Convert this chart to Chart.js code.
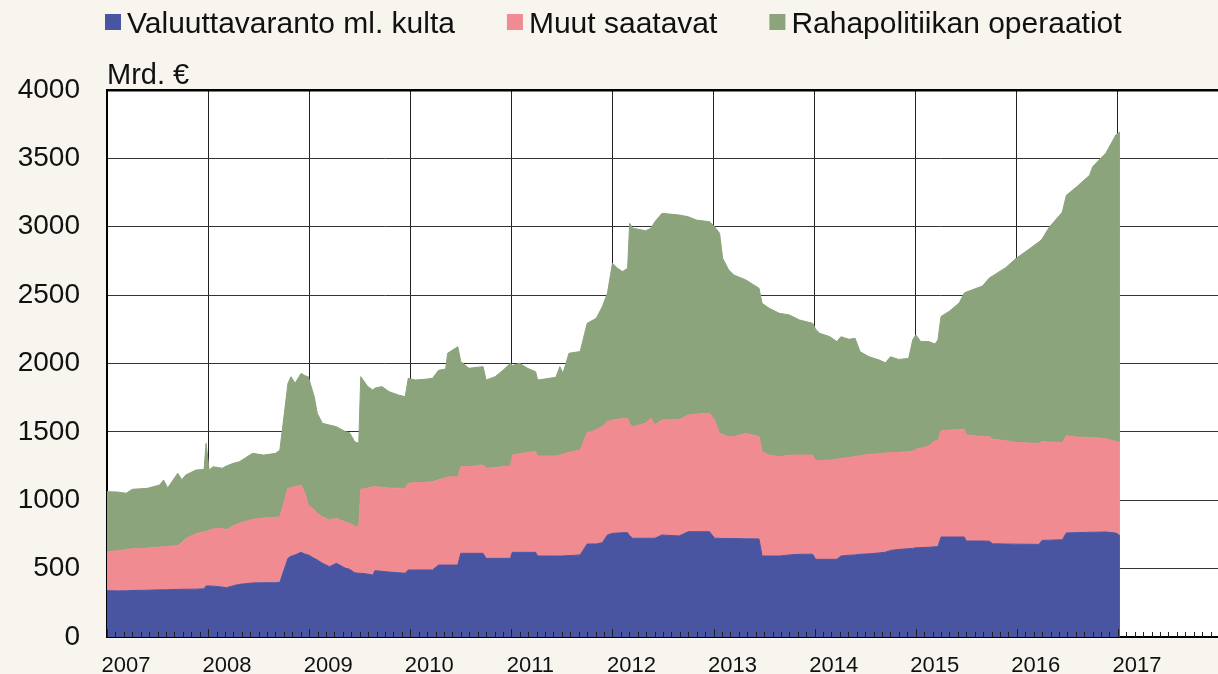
<!DOCTYPE html>
<html lang="fi">
<head>
<meta charset="utf-8">
<title>Eurojärjestelmän saatavat</title>
<script src="https://cdn.jsdelivr.net/npm/chart.js@4.4.1/dist/chart.umd.min.js"></script>
<style>
  html, body { margin: 0; padding: 0; background: #f8f4ee; }
  #wrap { position: relative; width: 1218px; height: 674px; }
</style>
</head>
<body>
<div id="wrap"><canvas id="chart"></canvas></div>
<script>
// ======================
// Data (vuosi desimaalina, mrd. euroa)
// ======================
const dates = [
  2007.00, 2007.10, 2007.19, 2007.25, 2007.40, 2007.52, 2007.56, 2007.60, 2007.70, 2007.74,
  2007.78, 2007.88, 2007.96, 2007.98, 2008.01, 2008.05, 2008.14, 2008.18, 2008.25, 2008.31,
  2008.44, 2008.55, 2008.67, 2008.71, 2008.79, 2008.82, 2008.86, 2008.92, 2008.96, 2008.99,
  2009.05, 2009.08, 2009.13, 2009.20, 2009.27, 2009.36, 2009.40, 2009.45, 2009.49, 2009.51,
  2009.58, 2009.63, 2009.65, 2009.72, 2009.79, 2009.88, 2009.95, 2009.98, 2010.05, 2010.15,
  2010.22, 2010.28, 2010.35, 2010.37, 2010.47, 2010.50, 2010.58, 2010.72, 2010.75, 2010.84,
  2010.92, 2010.99, 2011.01, 2011.08, 2011.16, 2011.24, 2011.26, 2011.44, 2011.48, 2011.51,
  2011.54, 2011.57, 2011.68, 2011.75, 2011.84, 2011.90, 2011.95, 2012.00, 2012.05, 2012.10,
  2012.15, 2012.17, 2012.20, 2012.33, 2012.38, 2012.42, 2012.49, 2012.66, 2012.75, 2012.83,
  2012.96, 2013.01, 2013.06, 2013.09, 2013.15, 2013.20, 2013.32, 2013.45, 2013.48, 2013.55,
  2013.65, 2013.75, 2013.85, 2013.98, 2014.01, 2014.05, 2014.15, 2014.22, 2014.26, 2014.34,
  2014.40, 2014.45, 2014.54, 2014.64, 2014.70, 2014.75, 2014.83, 2014.93, 2014.97, 2015.00,
  2015.05, 2015.13, 2015.19, 2015.22, 2015.25, 2015.33, 2015.43, 2015.48, 2015.50, 2015.60,
  2015.66, 2015.73, 2015.76, 2015.89, 2015.99, 2016.12, 2016.22, 2016.25, 2016.32, 2016.45,
  2016.49, 2016.59, 2016.72, 2016.75, 2016.88, 2016.98, 2017.02
];
const valuuttavaranto = [
  339, 337, 338, 340, 342, 345, 345, 346, 348, 349,
  349, 350, 352, 373, 373, 372, 365, 360, 375, 385,
  395, 397, 397, 400, 575, 590, 600, 619, 605, 600,
  575, 563, 540, 514, 539, 502, 495, 470, 466, 466,
  460, 453, 485, 480, 475, 470, 466, 490, 490, 490,
  490, 526, 526, 526, 526, 612, 612, 612, 575, 575,
  575, 575, 619, 619, 619, 619, 592, 592, 592, 592,
  595, 595, 600, 680, 680, 690, 746, 758, 760, 763,
  763, 740, 722, 722, 722, 722, 746, 739, 770, 770,
  770, 722, 722, 720, 720, 720, 718, 717, 592, 592,
  592, 600, 605, 605, 568, 568, 568, 568, 592, 598,
  600, 605, 608, 615, 620, 633, 640, 646, 648, 652,
  654, 656, 660, 660, 731, 731, 731, 731, 702, 702,
  702, 700, 682, 680, 679, 678, 677, 707, 708, 711,
  761, 763, 766, 766, 768, 760, 741
];
const muutSaatavat = [
  285, 293, 302, 305, 308, 313, 315, 316, 322, 341,
  371, 405, 418, 397, 407, 418, 430, 422, 440, 446,
  465, 473, 478, 480, 512, 500, 500, 492, 445, 365,
  355, 341, 340, 341, 329, 338, 336, 340, 336, 614,
  630, 646, 614, 615, 615, 618, 621, 634, 638, 640,
  646, 624, 639, 644, 646, 633, 633, 646, 659, 665,
  670, 675, 712, 721, 731, 736, 732, 732, 738, 743,
  750, 755, 767, 814, 834, 850, 829, 829, 830, 836,
  836, 820, 816, 841, 877, 828, 841, 851, 853, 860,
  866, 865, 767, 760, 745, 745, 771, 748, 763, 738,
  726, 730, 725, 725, 721, 722, 726, 732, 714, 714,
  720, 720, 728, 725, 725, 715, 710, 709, 712, 721,
  726, 742, 774, 774, 777, 781, 787, 789, 777, 768,
  764, 764, 765, 755, 743, 740, 738, 722, 718, 711,
  710, 699, 693, 693, 682, 670, 681
];
const rahapolitiikka = [
  439, 430, 411, 435, 437, 453, 488, 428, 527, 460,
  465, 466, 455, 646, 441, 455, 439, 468, 455, 451,
  483, 460, 468, 487, 768, 814, 755, 817, 860, 939,
  827, 732, 683, 695, 670, 661, 663, 618, 614, 824,
  741, 707, 721, 736, 704, 682, 670, 768, 751, 755,
  756, 800, 795, 905, 951, 768, 720, 719, 645, 664,
  707, 751, 654, 661, 615, 585, 555, 575, 647, 593,
  656, 725, 720, 800, 817, 876, 938, 1146, 1106, 1073,
  1097, 1465, 1451, 1408, 1390, 1487, 1511, 1496, 1450, 1419,
  1401, 1413, 1463, 1289, 1219, 1182, 1122, 1085, 1085, 1074,
  1049, 1025, 988, 964, 961, 931, 902, 860, 890, 865,
  864, 761, 713, 685, 660, 701, 680, 682, 812, 836,
  780, 762, 709, 738, 836, 869, 925, 996, 1043, 1080,
  1100, 1163, 1193, 1266, 1345, 1418, 1475, 1481, 1570, 1685,
  1759, 1829, 1918, 1980, 2087, 2242, 2270
];
const yearTicks = [2007, 2008, 2009, 2010, 2011, 2012, 2013, 2014, 2015, 2016, 2017];
const valueTicks = [0, 500, 1000, 1500, 2000, 2500, 3000, 3500, 4000];
const seriesLabels = ["Valuuttavaranto ml. kulta", "Muut saatavat", "Rahapolitiikan operaatiot"];
const seriesColors = ["#4a55a2", "#f08b92", "#8ba47c"];

const FONT = '"Liberation Sans", Arial, sans-serif';

function toPoints(values) {
    return values.map((v, i) => ({ x: dates[i], y: v }));
}

// ======================
// Plugins: plot background, legend, unit label, month ticks
// ======================
const plotBackground = {
    id: "plotBackground",
    beforeDraw(chart) {
        const { ctx, chartArea: a } = chart;
        ctx.save();
        ctx.fillStyle = "#ffffff";
        ctx.fillRect(a.left, a.top, a.right - a.left, a.bottom - a.top);
        ctx.restore();
    }
};

const topTexts = {
    id: "topTexts",
    afterDraw(chart) {
        const ctx = chart.ctx;
        ctx.save();
        ctx.font = "30px " + FONT;
        ctx.textBaseline = "alphabetic";
        ctx.fillStyle = "#111";
        let x = 105;
        chart.data.datasets.forEach(ds => {
            ctx.fillStyle = ds.backgroundColor;
            ctx.fillRect(x, 14, 16, 16);
            ctx.fillStyle = "#111";
            ctx.fillText(ds.label, x + 22, 33);
            x += 22 + ctx.measureText(ds.label).width + 52;
        });
        ctx.font = "29px " + FONT;
        ctx.fillText("Mrd. €", chart.chartArea.left, 84);
        ctx.restore();
    }
};

const monthTicks = {
    id: "monthTicks",
    afterDatasetsDraw(chart) {
        const xs = chart.scales.x, ctx = chart.ctx, bottom = chart.chartArea.bottom;
        ctx.save();
        ctx.strokeStyle = "#222";
        ctx.lineWidth = 1;
        ctx.beginPath();
        for (let m = Math.ceil(xs.min * 12); m <= xs.max * 12; m++) {
            const px = Math.round(xs.getPixelForValue(m / 12)) + 0.5;
            const len = m % 12 === 0 ? 8 : 5;
            ctx.moveTo(px, bottom);
            ctx.lineTo(px, bottom - len);
        }
        ctx.stroke();
        ctx.restore();
    }
};

// ======================
// Chart
// ======================
const ctx = document.getElementById("chart").getContext("2d");
new Chart(ctx, {
    type: "line",
    data: {
        datasets: [
            { label: seriesLabels[0], data: toPoints(valuuttavaranto), backgroundColor: seriesColors[0], borderColor: seriesColors[0], fill: "origin" },
            { label: seriesLabels[1], data: toPoints(muutSaatavat), backgroundColor: seriesColors[1], borderColor: seriesColors[1], fill: "-1" },
            { label: seriesLabels[2], data: toPoints(rahapolitiikka), backgroundColor: seriesColors[2], borderColor: seriesColors[2], fill: "-1" }
        ]
    },
    options: {
        responsive: true,
        maintainAspectRatio: false,
        animation: false,
        elements: {
            point: { radius: 0, hoverRadius: 0 },
            line: { borderWidth: 1, tension: 0 }
        },
        layout: { padding: { top: 90, left: 0, right: 0, bottom: 0 } },
        plugins: {
            legend: { display: false },
            tooltip: { enabled: false }
        },
        scales: {
            x: {
                type: "linear",
                min: 2007,
                max: 2017.99,
                afterBuildTicks: scale => { scale.ticks = yearTicks.map(v => ({ value: v })); },
                afterFit: scale => { scale.height = 37; },
                ticks: {
                    autoSkip: false,
                    maxRotation: 0,
                    labelOffset: 19,
                    padding: 16,
                    color: "#111",
                    font: { family: FONT, size: 22 },
                    callback: v => String(v)
                },
                grid: { color: "#222", lineWidth: 1, drawTicks: false },
                border: { color: "#000", width: 2 }
            },
            y: {
                stacked: true,
                min: 0,
                max: 4000,
                afterBuildTicks: scale => { scale.ticks = valueTicks.map(v => ({ value: v })); },
                afterFit: scale => {
                    scale.width = 107;
                    scale.paddingTop = 0;
                    scale.paddingBottom = 0;
                },
                ticks: {
                    padding: 27,
                    color: "#111",
                    font: { family: FONT, size: 28 },
                    callback: v => String(v)
                },
                grid: {
                    color: c => c.tick && c.tick.value === 4000 ? "#000" : "#333",
                    lineWidth: c => c.tick && c.tick.value === 4000 ? 2.5 : 1,
                    drawTicks: false
                },
                border: { color: "#000", width: 2 }
            }
        }
    },
    plugins: [plotBackground, topTexts, monthTicks]
});
</script>
</body>
</html>
